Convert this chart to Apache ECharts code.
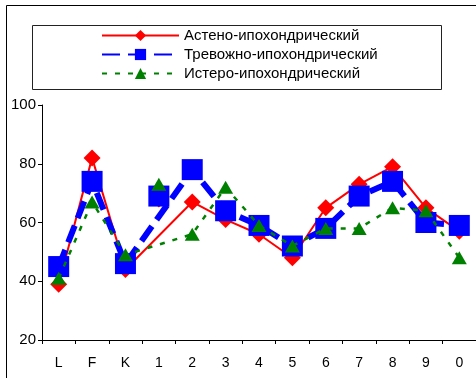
<!DOCTYPE html>
<html>
<head>
<meta charset="utf-8">
<script src="https://cdn.jsdelivr.net/npm/echarts@6/dist/echarts.min.js"></script>
<style>
  html, body { margin: 0; padding: 0; background: #fff; }
  #chart { width: 476px; height: 378px; }
</style>
</head>
<body>
<div id="chart"></div>
<script>
// Scale categories
const categories = ['L', 'F', 'K', '1', '2', '3', '4', '5', '6', '7', '8', '9', '0'];

// Profile values per scale
const asthenic = [39, 82, 44, 68, 67, 61, 56, 48, 65, 73, 79, 65, 57];
const anxious  = [45, 74, 46, 69, 78, 64, 59, 52, 58, 69, 74, 60, 59];
const hysteric = [41, 67, 49, 73, 56, 72, 59, 52, 58, 58, 65, 64, 48];

const seriesNames = ['Астено-ипохондрический', 'Тревожно-ипохондрический', 'Истеро-ипохондрический'];
const yTicks = { min: 20, max: 100, step: 20 };

// Scale "1" is plotted as a free-standing marker; the profile lines bridge over it
const detachedIndex = categories.indexOf('1');
const lineData = arr => arr.map((v, i) => (i === detachedIndex ? null : v));
const pointData = arr => arr.map((v, i) => (i === detachedIndex ? v : null));

const styles = [
  { color: '#ff0000', symbol: 'diamond', size: [17, 17], width: 2, type: 'solid', z: 2 },
  { color: '#0000ff', symbol: 'rect', size: [21, 21], width: 6, type: [18, 8], z: 3 },
  { color: '#008000', symbol: 'triangle', size: [15, 13], width: 2.5, type: [5, 8], z: 4 }
];
const values = [asthenic, anxious, hysteric];

const series = [];
values.forEach((arr, k) => {
  const s = styles[k];
  series.push({
    name: seriesNames[k],
    type: 'line',
    data: lineData(arr),
    connectNulls: true,
    symbol: s.symbol,
    symbolSize: s.size,
    showAllSymbol: true,
    z: s.z,
    itemStyle: { color: s.color },
    lineStyle: { color: s.color, width: s.width, type: s.type },
    animation: false
  });
});
values.forEach((arr, k) => {
  const s = styles[k];
  series.push({
    name: seriesNames[k] + ' ',
    type: 'scatter',
    data: pointData(arr),
    symbol: s.symbol,
    symbolSize: s.size,
    z: s.z,
    itemStyle: { color: s.color, opacity: 1 },
    animation: false
  });
});

const font = 'Liberation Sans, Arial, sans-serif';
const chart = echarts.init(document.getElementById('chart'), null, { renderer: 'canvas' });
chart.setOption({
  animation: false,
  backgroundColor: '#fff',
  textStyle: { fontFamily: font },
  grid: { left: 42, top: 105, width: 437, height: 235, containLabel: false },
  legend: {
    data: seriesNames,
    orient: 'vertical',
    left: 101,
    top: 28,
    itemWidth: 77,
    itemHeight: 14,
    itemGap: 4,
    padding: 0,
    selectedMode: false,
    textStyle: { color: '#000', fontSize: 15, fontFamily: font }
  },
  xAxis: {
    type: 'category',
    data: categories,
    boundaryGap: true,
    axisLine: { lineStyle: { color: '#000', width: 1 } },
    axisTick: { show: true, length: 4, lineStyle: { color: '#000' } },
    axisLabel: { color: '#000', fontSize: 14, margin: 16, interval: 0 },
    splitLine: { show: false }
  },
  yAxis: {
    type: 'value',
    min: yTicks.min,
    max: yTicks.max,
    interval: yTicks.step,
    axisLine: { show: true, lineStyle: { color: '#000', width: 1 } },
    axisTick: { show: true, length: 4, lineStyle: { color: '#000' } },
    axisLabel: { color: '#000', fontSize: 15, margin: 6 },
    splitLine: { show: false }
  },
  graphic: [
    {
      type: 'rect', silent: true, z: 0,
      shape: { x: 6.5, y: 5.5, width: 520, height: 420 },
      style: { fill: 'none', stroke: '#000', lineWidth: 1 }
    },
    {
      type: 'rect', silent: true, z: 0,
      shape: { x: 32.5, y: 25.5, width: 409, height: 64 },
      style: { fill: 'none', stroke: '#222', lineWidth: 1 }
    }
  ],
  series: series
});
</script>
</body>
</html>
